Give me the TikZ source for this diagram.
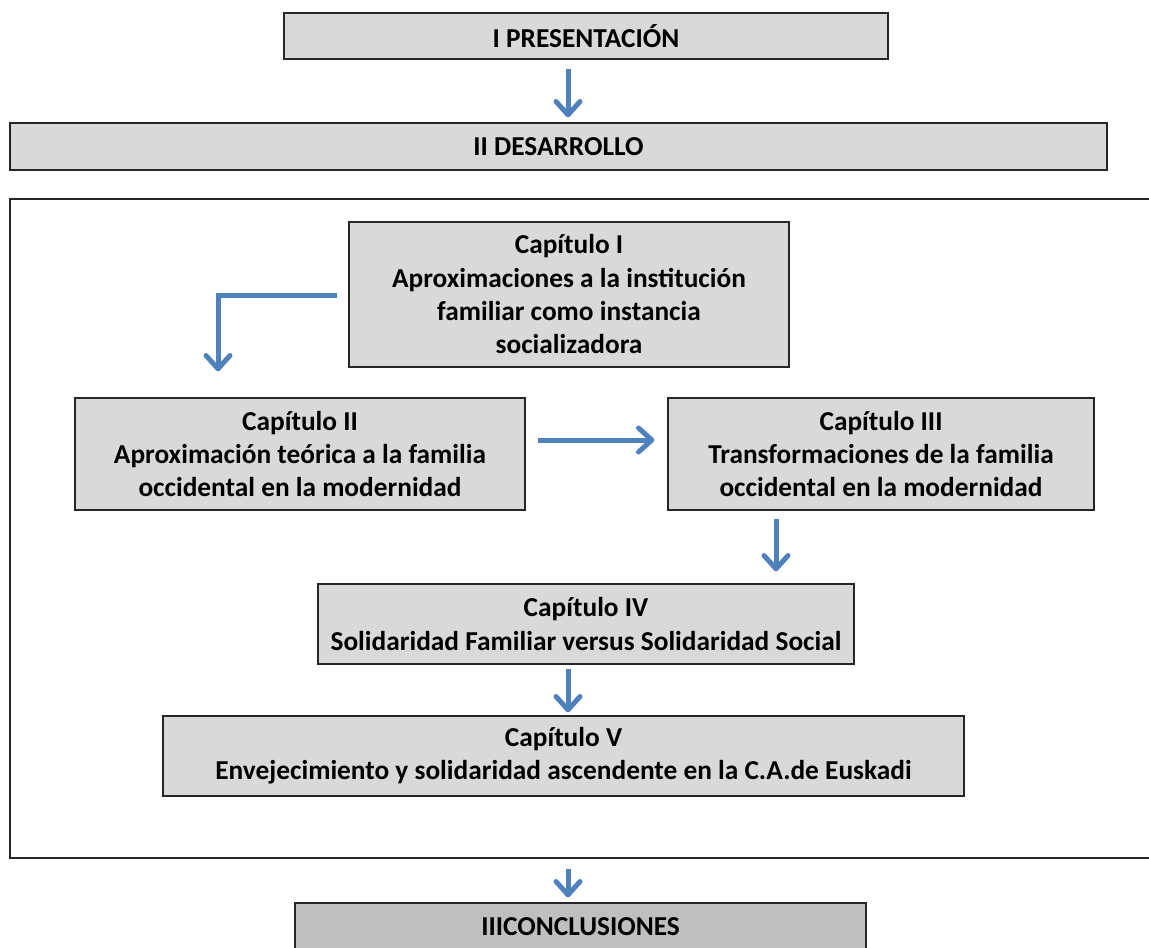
\documentclass[tikz,border=0pt]{standalone}
\usepackage{fontspec}
\setmainfont{Carlito}
\usetikzlibrary{arrows.meta, positioning, calc}
\definecolor{azul}{RGB}{79,129,189}
\definecolor{gris}{RGB}{217,217,217}
\definecolor{grisosc}{RGB}{191,191,191}
\tikzset{
  caja/.style = {draw=black!85, line width=1pt, fill=gris, align=center,
    inner sep=0pt, text centered,
    font=\fontsize{20.5}{25}\selectfont\bfseries},% caja de seccion
  caja_c/.style = {caja, fill=grisosc},% caja de conclusiones
  flecha/.style = {draw=azul, line width=3.75pt,
    -{Straight Barb[round, length=10pt, width=18pt]}}% flecha azul
}

\begin{document}
\begin{tikzpicture}[x=0.75pt, y=-0.75pt]
\clip (0,0) rectangle (1149,947);
\coordinate (eje) at (568,0);
\node [caja, minimum width=453pt, minimum height=34.5pt] (pres) at (586,36)
  {I PRESENTACIÓN};
\node [caja, minimum width=822.75pt, minimum height=35.25pt] (des) at (558.5,146.5)
  {II DESARROLLO};
\node [draw=black!85, line width=1pt, minimum width=862.5pt,
  minimum height=494.25pt] (marco) at (585,528.5) {};
\node [caja, minimum width=330pt, minimum height=108.75pt] (cap1) at (569,294.5)
  {Capítulo I\\Aproximaciones a la institución\\familiar como instancia\\socializadora};
\node [caja, minimum width=337.5pt, minimum height=84pt] (cap2) at (300,454)
  {Capítulo II\\Aproximación teórica a la familia\\occidental en la modernidad};
\node [caja, minimum width=319.5pt, minimum height=84pt] (cap3) at (881,454)
  {Capítulo III\\Transformaciones de la familia\\occidental en la modernidad};
\node [caja, minimum width=402pt, minimum height=60pt] (cap4) at (586,624)
  {Capítulo IV\\Solidaridad Familiar versus Solidaridad Social};
\node [caja, minimum width=600.75pt, minimum height=60pt] (cap5) at (563.5,756)
  {Capítulo V\\Envejecimiento y solidaridad ascendente en la C.A.de Euskadi};
\node [caja_c, minimum width=428.25pt, minimum height=36pt] (concl) at (580.5,927)
  {IIICONCLUSIONES};
% flechas
\draw [flecha, shorten <=6.75pt, shorten >=3.75pt] (pres.south -| eje) -- (des.north -| eje);
\draw [flecha] ([xshift=-8.25pt, yshift=-1pt]cap1.west) -| ([xshift=-61.5pt, yshift=19.5pt]cap2.north);
\draw [flecha] ([shift={(9pt,10.5pt)}]cap2.east) -- ([shift={(-9.75pt,10.5pt)}]cap3.west);
\draw [flecha, shorten <=6pt, shorten >=9pt] ([xshift=-78.75pt]cap3.south) -- ([xshift=-78.75pt]cap3.south |- cap4.north);
\draw [flecha, shorten <=3pt, shorten >=2.25pt] (cap4.south -| eje) -- (cap5.north -| eje);
\draw [flecha, shorten <=7.5pt, shorten >=3.75pt] (marco.south -| eje) -- (concl.north -| eje);
\end{tikzpicture}
\end{document}
